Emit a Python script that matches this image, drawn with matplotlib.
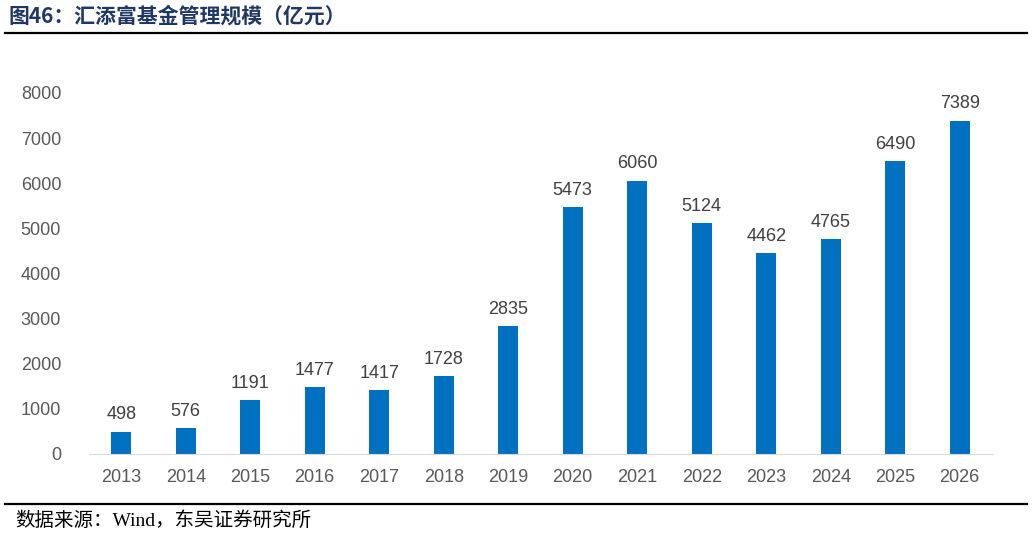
import matplotlib.pyplot as plt
from matplotlib.lines import Line2D

# Data
years = ['2013', '2014', '2015', '2016', '2017', '2018', '2019',
         '2020', '2021', '2022', '2023', '2024', '2025', '2026']
aum = [498, 576, 1191, 1477, 1417, 1728, 2835,
       5473, 6060, 5124, 4462, 4765, 6490, 7389]
yticks = [0, 1000, 2000, 3000, 4000, 5000, 6000, 7000, 8000]

fig = plt.figure(figsize=(10.32, 5.36), dpi=100)
ax = fig.add_axes([0.0862, 0.153, 0.875, 0.6735])

x = range(len(years))
ax.bar(x, aum, width=0.31, color='#0070C0')
for i, v in zip(x, aum):
    ax.text(i, v + 180, str(v), ha='center', va='bottom', fontsize=13,
            color='#404040', family='Liberation Sans')

ax.set_xlim(-0.5, len(years) - 0.5)
ax.set_ylim(0, 8000)
ax.set_yticks(yticks)
ax.set_xticks(list(x))
ax.set_xticklabels(years)
for lab in ax.get_xticklabels() + ax.get_yticklabels():
    lab.set_family('Liberation Sans')
    lab.set_fontsize(13)
    lab.set_color('#595959')
ax.tick_params(length=0)
ax.tick_params(axis='y', pad=20)
ax.tick_params(axis='x', pad=11)
for s in ['top', 'right', 'left']:
    ax.spines[s].set_visible(False)
ax.spines['bottom'].set_color('#D9D9D9')

# Title, rules and source
fig.text(0.008, 0.970, '图46：汇添富基金管理规模（亿元）', ha='left', va='center',
         fontsize=15, fontweight='bold', color='#1F3864',
         family=['Noto Sans CJK SC'])
fig.add_artist(Line2D([0.005, 0.995], [1 - 33 / 536] * 2, color='black', lw=1.6))
fig.add_artist(Line2D([0.005, 0.995], [1 - 504 / 536] * 2, color='black', lw=1.6))
fig.text(0.015, 1 - 521 / 536, '数据来源：Wind，东吴证券研究所', ha='left', va='center',
         fontsize=14, color='black', family=['Liberation Serif', 'Noto Sans CJK SC'])

fig.savefig('out.png', dpi=100)
